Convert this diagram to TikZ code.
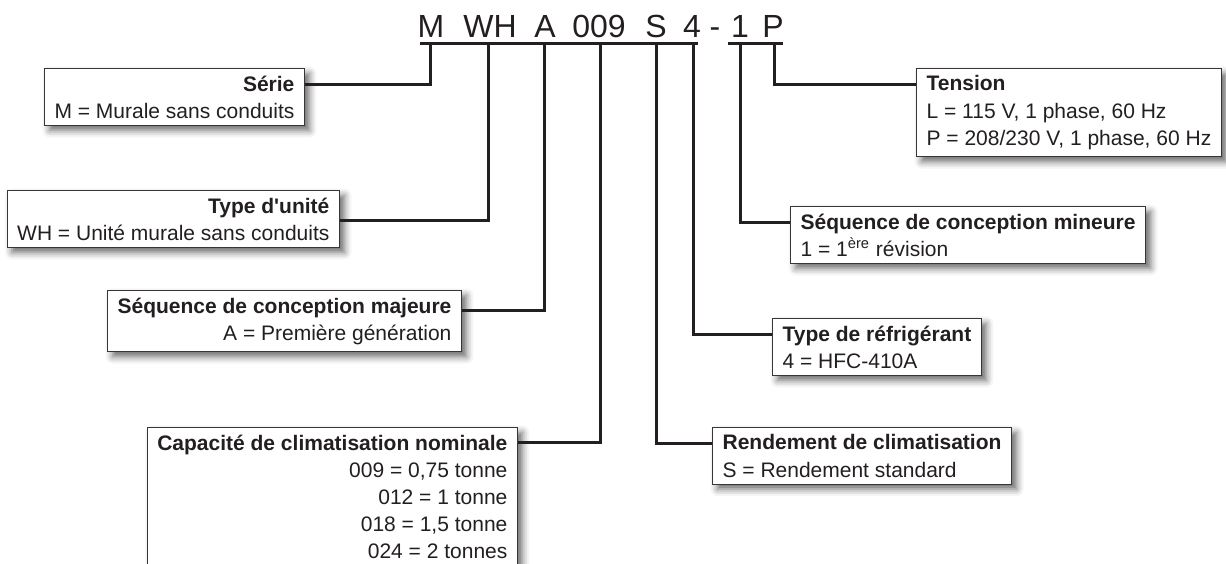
\documentclass[tikz,border=0pt]{standalone}
\usepackage{fontspec}
\setmainfont{Liberation Sans}
\usepackage{xcolor}
\usetikzlibrary{shadows.blur}
\definecolor{ink}{HTML}{231F20}

\begin{document}
\begin{tikzpicture}[
    x=0.5pt, y=-0.5pt,
    font=\fontsize{10.5}{13.6}\selectfont,
    code/.style={anchor=base, inner sep=0pt, font=\fontsize{16}{18}\selectfont, text=ink},
    infobox/.style={draw=ink!90, line width=0.6pt, fill=white, inner xsep=5pt, inner ysep=3.5pt, text=ink,
        blur shadow={shadow xshift=2.5pt, shadow yshift=-2.5pt, shadow blur radius=3.5pt, shadow opacity=60}},
    leftbox/.style={infobox, anchor=north east, align=right},
    rightbox/.style={infobox, anchor=north west, align=left},
    conn/.style={draw=ink, line width=1.5pt},
    uline/.style={draw=ink, line width=1.5pt}
]
\useasboundingbox (0,0) rectangle (1226,563);

\node[code] (cM) at (431,37) {M};
\node[code] (cWH) at (490,37) {WH};
\node[code] (cA) at (545,37) {A};
\node[code] (c009) at (599,37) {009};
\node[code] (cS) at (656,37) {S};
\node[code] (c4) at (692,37) {4};
\node[code] (cDash) at (715,37) {-};
\node[code] (c1) at (740,37) {1};
\node[code] (cP) at (773,37) {P};

\coordinate (u1a) at (420,43);
\coordinate (u1b) at (698,43);
\coordinate (u2a) at (728,43);
\coordinate (u2b) at (783,43);
\draw[uline] (u1a) -- (u1b);
\draw[uline] (u2a) -- (u2b);

\coordinate (tM) at (430,45);
\coordinate (tWH) at (488,45);
\coordinate (tA) at (544,45);
\coordinate (t009) at (600,45);
\coordinate (tS) at (656,45);
\coordinate (t4) at (693,45);
\coordinate (t1) at (740,45);
\coordinate (tP) at (774,45);

\node[leftbox] (serie) at (305,68) {\textbf{Série}\\M = Murale sans conduits};
\node[leftbox] (typeu) at (340,190) {\textbf{Type d\textquotesingle unité}\\WH = Unité murale sans conduits};
\node[leftbox] (majeure) at (462,290) {\textbf{Séquence de conception majeure}\\A = Première génération};
\node[leftbox] (capac) at (518,427) {\textbf{Capacité de climatisation nominale}\\009 = 0,75 tonne\\012 = 1 tonne\\018 = 1,5 tonne\\024 = 2 tonnes};
\node[rightbox] (tension) at (916,68) {\textbf{Tension}\\L = 115 V, 1 phase, 60 Hz\\P = 208/230 V, 1 phase, 60 Hz};
\node[rightbox] (mineure) at (790,206) {\textbf{Séquence de conception mineure}\\1 = 1\textsuperscript{ère} révision};
\node[rightbox] (refrig) at (772,318) {\textbf{Type de réfrigérant}\\4 = HFC-410A};
\node[rightbox] (rendement) at (712,427) {\textbf{Rendement de climatisation}\\S = Rendement standard};

\draw[conn] (tM) |- ([yshift=-8pt]serie.north east);
\draw[conn] (tWH) |- ([yshift=-15pt]typeu.north east);
\draw[conn] (tA) |- ([yshift=-10pt]majeure.north east);
\draw[conn] (t009) |- ([yshift=-7.5pt]capac.north east);
\draw[conn] (tS) |- ([yshift=-8pt]rendement.north west);
\draw[conn] (t4) |- ([yshift=-8pt]refrig.north west);
\draw[conn] (t1) |- ([yshift=-8pt]mineure.north west);
\draw[conn] (tP) |- ([yshift=-8pt]tension.north west);
\end{tikzpicture}
\end{document}
